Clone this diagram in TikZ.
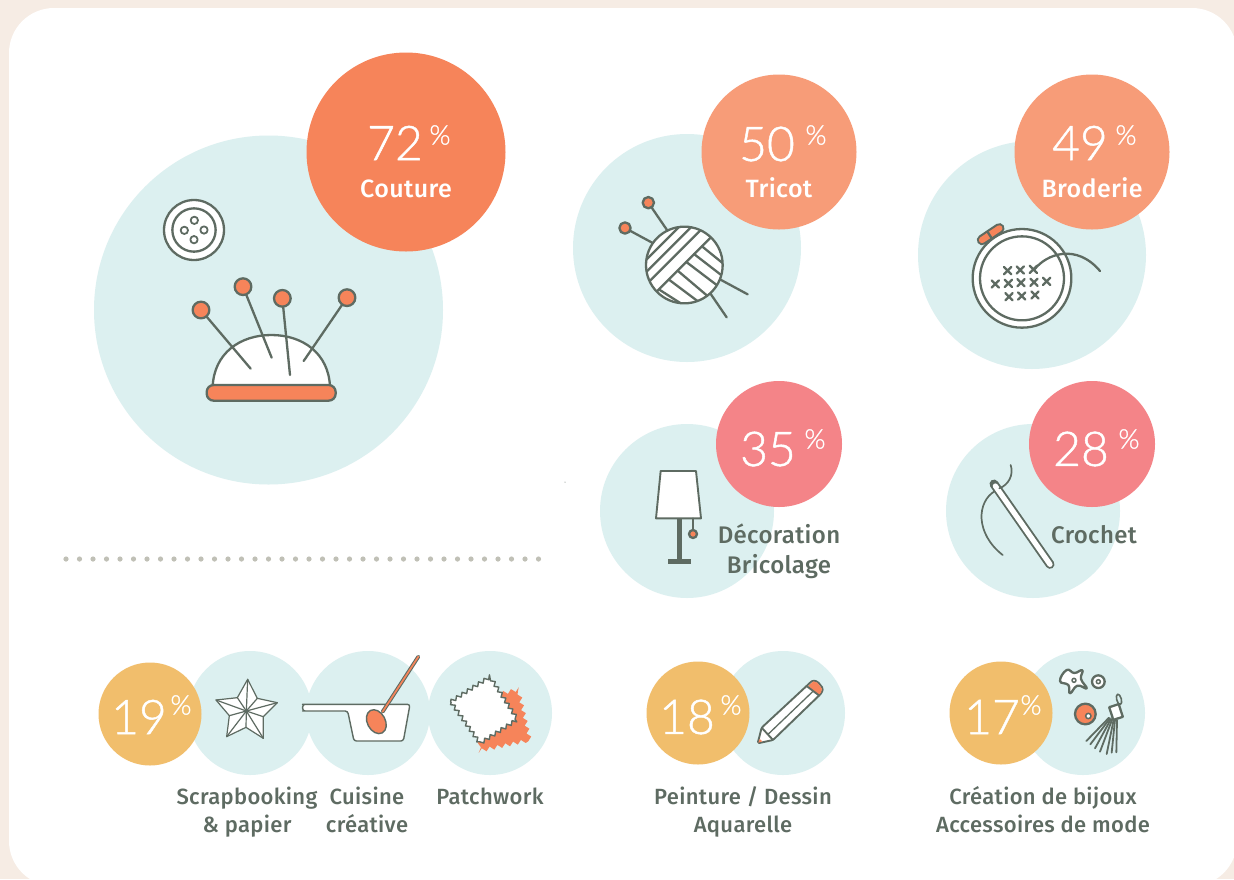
\documentclass[tikz,border=0pt]{standalone}
\usepackage{fontspec}
\usetikzlibrary{decorations.pathmorphing}
\newfontfamily\numfont[FakeBold=1]{Lato Light}
\newfontfamily\labfont[LetterSpace=1.5]{Fira Sans Medium}
\definecolor{bgpage}{HTML}{F6ECE4}
\definecolor{lightc}{HTML}{DCF0F0}
\definecolor{orangeA}{HTML}{F6845A}
\definecolor{orangeB}{HTML}{F79C78}
\definecolor{pinkc}{HTML}{F48488}
\definecolor{yellowc}{HTML}{F1BE6C}
\definecolor{inkc}{HTML}{5E6B62}
\definecolor{dotc}{HTML}{C0C0B6}
\tikzset{
 disc/.style={circle,inner sep=0pt,outer sep=0pt},
 lightdisc/.style={disc,fill=lightc},
 ink/.style={draw=inkc,line width=2.3pt,line cap=round,line join=round},
 inkthin/.style={draw=inkc,line width=1.2pt,line cap=round,line join=round},
 num/.style={inner sep=0pt,text=white,font=\numfont\fontsize{48}{48}\selectfont},
 numsmall/.style={inner sep=0pt,text=white,font=\numfont\fontsize{27}{27}\selectfont},
 labw/.style={inner sep=0pt,anchor=base,text=white,font=\labfont\fontsize{25}{25}\selectfont},
 labd/.style={inner sep=0pt,anchor=base,text=inkc,font=\labfont\fontsize{24}{24}\selectfont},
 labs/.style={inner sep=0pt,anchor=base,text=inkc,font=\labfont\fontsize{22}{22}\selectfont},
 icon/.style={shift={#1},scale=1/3},
}
\begin{document}
\begin{tikzpicture}[x=1pt,y=-1pt]
\useasboundingbox (0,0) rectangle (1234,879);
\fill[bgpage] (0,0) rectangle (1234,879);
\fill[white,rounded corners=45pt] (9,8) rectangle (1237,886);
\fill[inkc] (565,482) circle (0.5pt);
% light discs
\node[lightdisc,minimum size=349pt] (d1) at (268.5,310) {};
\node[lightdisc,minimum size=228pt] (d2) at (687,248) {};
\node[lightdisc,minimum size=228pt] (d3) at (1032,255) {};
\node[lightdisc,minimum size=174pt] (d4) at (687,511) {};
\node[lightdisc,minimum size=174pt] (d5) at (1033,511) {};
\node[lightdisc,minimum size=124pt] (d6) at (250,713) {};
\node[lightdisc,minimum size=124pt] (d7) at (368,713) {};
\node[lightdisc,minimum size=124pt] (d8) at (490,713) {};
\node[lightdisc,minimum size=124pt] (d9) at (783,713) {};
\node[lightdisc,minimum size=124pt] (d10) at (1083,713) {};
% coloured discs
\node[disc,fill=orangeA,minimum size=199pt] (c1) at (406,152) {};
\node[disc,fill=orangeB,minimum size=155pt] (c2) at (779,152) {};
\node[disc,fill=orangeB,minimum size=155pt] (c3) at (1092,152) {};
\node[disc,fill=pinkc,minimum size=126pt] (c4) at (779,444) {};
\node[disc,fill=pinkc,minimum size=126pt] (c5) at (1092,444) {};
\node[disc,fill=yellowc,minimum size=103pt] (c6) at (150,714) {};
\node[disc,fill=yellowc,minimum size=103pt] (c7) at (698,713) {};
\node[disc,fill=yellowc,minimum size=103pt] (c8) at (1001,713) {};
% dotted rule
\foreach \k in {0,...,35} \fill[dotc] ({66+13.5*\k},559) circle (2.6pt);
% button + pincushion
\begin{scope}[icon={(140,190)}]
 \draw[ink,fill=white] (162,120) circle (90);
 \draw[ink] (162,120) circle (65);
 \foreach \a/\b in {163/91,192/120,162/149,133/121} \draw[ink,line width=1.8pt] (\a,\b) circle (11);
 \draw[ink,fill=white] (218,590) .. controls (222,490) and (300,435) .. (394,435) .. controls (488,435) and (566,490) .. (570,590);
 \draw[ink] (183,360) -- (332,536);
 \draw[ink] (309,290) -- (395,503);
 \draw[ink] (427,325) -- (450,555);
 \draw[ink] (621,323) -- (491,513);
 \foreach \a/\b in {183/360,309/290,427/325,621/323} \draw[ink,fill=orangeA] (\a,\b) circle (25);
 \draw[ink,fill=orangeA,rounded corners=7pt] (200,585) rectangle (587,632);
\end{scope}
% yarn
\begin{scope}[icon={(600,180)}]
 \draw[ink] (145,68) -- (380,412);
 \draw[ink] (75,144) -- (443,343);
 \foreach \a/\b in {145/68,75/144} \draw[ink,fill=orangeA] (\a,\b) circle (17);
 \fill[white] (253,255) circle (115);
 \begin{scope}
  \clip (253,255) circle (115);
  \foreach \s in {340,378,415,452,505} \draw[ink] (0,\s) -- (\s,0);
  \foreach \a/\b/\c/\e in {178/329/250/375,207/299/295/365,233/272/325/350,259/246/350/315,282/222/370/290,306/199/375/255}
   \draw[ink] (\a,\b) -- (\c,\e);
 \end{scope}
 \draw[ink] (253,255) circle (115);
\end{scope}
% embroidery hoop
\begin{scope}[icon={(960,210)}]
 \draw[draw=inkc,line width=10.5pt,line cap=round] (66,90) -- (118,55);
 \draw[draw=orangeA,line width=6.2pt,line cap=round] (66,90) -- (118,55);
 \draw[ink] (83,66) -- (99,91);
 \draw[ink,fill=white] (186,205) circle (148);
 \draw[ink] (186,205) circle (126);
 \draw[ink] (222,180) .. controls (260,130) and (350,100) .. (420,183);
 \foreach \a/\b in {143/182,181/180,220/178,106/222,145/220,183/218,222/217,260/214,147/260,185/258,225/255}
  \draw[ink] (\a-11,\b-11) -- (\a+11,\b+11) (\a+11,\b-11) -- (\a-11,\b+11);
\end{scope}
% lamp
\begin{scope}[icon={(640,460)}]
 \draw[ink,line width=1.9pt,fill=white] (62,33) -- (168,33) -- (183,175) -- (48,175) -- cycle;
 \draw[draw=inkc,line width=4.5pt] (118,175) -- (118,304);
 \draw[draw=inkc,line width=4.5pt] (85,304) -- (152,304);
 \draw[ink,line width=1.6pt] (159,175) -- (159,212);
 \draw[ink,fill=orangeA] (159,222) circle (12);
\end{scope}
% crochet hook
\begin{scope}[icon={(970,455)}]
 \draw[inkc,line width=1.7pt,line cap=round] (75,108) .. controls (20,140) and (15,235) .. (98,300);
 \draw[inkc,line width=9pt,line cap=round] (72,87) -- (240,328);
 \draw[white,line width=5.2pt,line cap=round] (76,93) -- (240,328);
 \draw[inkc,line width=1.7pt,line cap=round] (122,30) .. controls (132,60) and (115,90) .. (88,100);
\end{scope}
% star
\begin{scope}[icon={(200,650)}]
 \draw[inkthin,fill=white] (143,88) -- (172,145) -- (232,158) -- (190,200) -- (190,265) -- (138,232) -- (80,260) -- (88,197) -- (48,150) -- (112,143) -- cycle;
 \foreach \a/\b in {143/88,172/145,232/158,190/200,190/265,138/232,80/260,88/197,48/150,112/143}
  \draw[inkthin] (139,183) -- (\a,\b);
 % pan
 \draw[inkthin,line width=1.4pt,fill=white,rounded corners=2.5pt] (315,163) -- (630,163) -- (610,273) -- (462,273) -- (443,183) -- (315,183) -- (308,183) -- (308,163) -- cycle;
 \draw[draw=inkc,line width=3.8pt,line cap=round] (548,185) -- (655,20);
 \draw[draw=orangeA,line width=1.7pt,line cap=round] (548,185) -- (655,20);
 \draw[ink,line width=1.4pt,fill=orangeA,rotate around={28:(529,215)}] (529,215) ellipse (27 and 38);
 % patch
 \fill[orangeA,decorate,decoration={zigzag,segment length=8pt,amplitude=2pt}] (905,130) -- (955,118) -- (990,270) -- (835,303) -- (840,270) -- cycle;
 \draw[inkthin,line width=1.4pt,fill=white,decorate,decoration={zigzag,segment length=6.5pt,amplitude=1.8pt}] (752,155) -- (870,80) -- (952,208) -- (840,280) -- cycle;
\end{scope}
% pencil
\begin{scope}[icon={(745,665)}]
 \draw[ink,line width=1.9pt,fill=white,rounded corners=1.5pt] (38,235) -- (50,188) -- (203,46) -- (218,50) -- (234,70) -- (230,84) -- (84,225) -- cycle;
 \fill[orangeA] (190,63) -- (205,49) -- (217,53) -- (231,71) -- (228,83) -- (221,90) -- cycle;
 \draw[ink,line width=1.9pt] (186,64) -- (223,92);
 \draw[ink,line width=1.9pt] (50,188) -- (84,225);
 \draw[ink,line width=1.3pt] (70,207) -- (205,78);
 \fill[orangeA] (40,233) -- (44,222) -- (52,229) -- cycle;
\end{scope}
% jewellery
\begin{scope}[icon={(1045,655)}]
 \draw[ink,fill=white] plot[smooth cycle,tension=.8] coordinates {(65,45) (88,54) (112,46) (108,72) (125,100) (97,92) (75,115) (70,90) (45,78)};
 \draw[ink,line width=1.5pt] (87,76) circle (6);
 \draw[ink,fill=white] (160,80) circle (19);
 \draw[ink,line width=1.5pt] (160,80) circle (6);
 \draw[ink,fill=orangeA] (121,177) circle (31);
 \draw[ink,line width=1.5pt,fill=white] (130,183) circle (8);
 \foreach \a/\b/\c/\e in {192/188/124/258,195/190/136/268,198/192/150/280,202/192/165/290,206/194/185/297,210/194/200/293,216/196/214/292}
  \draw[ink,line width=1.8pt] (\a,\b) -- (\c,\e);
 \draw[ink,line width=1.6pt,rotate around={15:(222,133)}] (222,133) ellipse (7 and 16);
 \draw[ink,fill=white,rotate around={18:(213,171)}] (198,151) rectangle (228,191);
\end{scope}
% percentages
\node[num] (n1) at (395,143) {72}; \node[numsmall] (p1) at (440,135) {\%};
\node[num] (n2) at (767,144) {50}; \node[numsmall] (p2) at (816,135) {\%};
\node[num] (n3) at (1080,143) {49}; \node[numsmall] (p3) at (1126,135) {\%};
\node[num] (n4) at (768,449) {35}; \node[numsmall] (p4) at (815,439) {\%};
\node[num] (n5) at (1081,449) {28}; \node[numsmall] (p5) at (1129,439) {\%};
\node[num] (n6) at (139,717) {19}; \node[numsmall] (p6) at (181,705) {\%};
\node[num] (n7) at (687,717) {18}; \node[numsmall] (p7) at (731,705) {\%};
\node[num] (n8) at (992,717) {17}; \node[numsmall] (p8) at (1031,705) {\%};
% labels
\node[labw] (t1) at (406,197) {Couture};
\node[labw] (t2) at (779,197) {Tricot};
\node[labw] (t3) at (1092,197) {Broderie};
\node[labd] (t4a) at (779,543) {Décoration};
\node[labd] (t4b) at (779,573) {Bricolage};
\node[labd] (t5) at (1094,543) {Crochet};
\node[labs] (t6a) at (247,804) {Scrapbooking};
\node[labs] (t6b) at (247,832) {\& papier};
\node[labs] (t7a) at (367,804) {Cuisine};
\node[labs] (t7b) at (367,832) {créative};
\node[labs] (t8) at (490,804) {Patchwork};
\node[labs] (t9a) at (743,804) {Peinture / Dessin};
\node[labs] (t9b) at (743,832) {Aquarelle};
\node[labs] (t10a) at (1043,804) {Création de bijoux};
\node[labs] (t10b) at (1043,832) {Accessoires de mode};
\end{tikzpicture}
\end{document}
